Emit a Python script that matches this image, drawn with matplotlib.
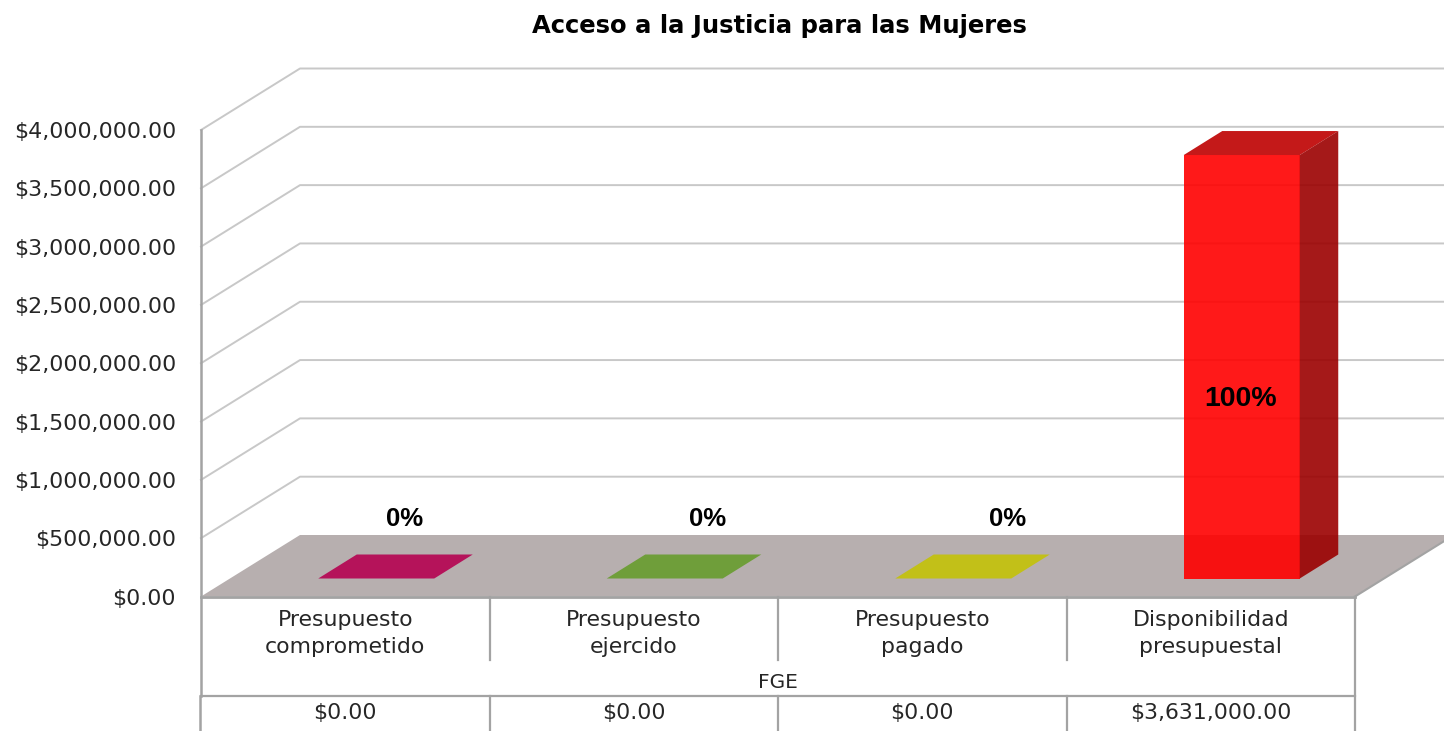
import matplotlib
matplotlib.use("Agg")
import matplotlib.pyplot as plt

categories = ["Presupuesto\ncomprometido", "Presupuesto\nejercido", "Presupuesto\npagado", "Disponibilidad\npresupuestal"]
values = [0, 0, 0, 3631000]
percent_labels = ["0%", "0%", "0%", "100%"]
value_labels = ["$0.00", "$0.00", "$0.00", "$3,631,000.00"]
group_label = "FGE"
y_ticks = [0, 500000, 1000000, 1500000, 2000000, 2500000, 3000000, 3500000, 4000000]

W, H = 1444, 731
LEFT, RIGHT, TOP, BOTTOM = 201, 1355, 130, 596.5
FONT = "DejaVu Sans"
GRID = "#C8C8C8"
AXIS = "#A3A3A3"

fig = plt.figure(figsize=(W / 100, H / 100), dpi=100)
ax = fig.add_axes([LEFT / W, 1 - BOTTOM / H, (RIGHT - LEFT) / W, (BOTTOM - TOP) / H])
ax.set_xlim(0, 4)
ax.set_ylim(0, 4000000)
ax.patch.set_visible(False)

px_x = 4 / (RIGHT - LEFT)
px_y = 4000000 / (BOTTOM - TOP)
depth_x = 99 * px_x
depth_y = 61.5 * px_y


def below(px):
    # y in data units for a pixel row under the axes
    return -(px - BOTTOM) * px_y


# grid on the side and back walls
for v in y_ticks[1:]:
    ax.plot([0, depth_x, 4 + depth_x], [v, v + depth_y, v + depth_y], color=GRID, lw=1.4, clip_on=False, zorder=1)

# floor
ax.fill([0, depth_x, 4 + depth_x, 4], [0, depth_y, depth_y, 0], color="#B7AFAF", lw=0, clip_on=False, zorder=2)
ax.plot([4, 4 + depth_x], [0, depth_y], color=AXIS, lw=1.5, clip_on=False, zorder=3)

# bars
bar_w = 116 * px_x
bar_dx = 38.5 * px_x
bar_dy = 24 * px_y
start_x = 31 * px_x
start_y = 18 * px_y
flat_colors = ["#B5135A", "#6F9E3A", "#C2C018", "#FF0000"]
for i, v in enumerate(values):
    x0 = i + 0.5 + start_x - bar_w / 2
    x1 = x0 + bar_w
    y0 = start_y
    y1 = y0 + v
    ax.fill([x0, x0 + bar_dx, x1 + bar_dx, x1], [y1, y1 + bar_dy, y1 + bar_dy, y1],
            color=flat_colors[i] if v == 0 else "#BE0000", alpha=1 if v == 0 else 0.9, lw=0, clip_on=False, zorder=4)
    if v > 0:
        ax.fill([x0, x1, x1, x0], [y0, y0, y1, y1], color=flat_colors[i], alpha=0.9, lw=0, clip_on=False, zorder=4)
        ax.fill([x1, x1 + bar_dx, x1 + bar_dx, x1], [y0, y0 + bar_dy, y1 + bar_dy, y1],
                color="#9B0000", alpha=0.9, lw=0, clip_on=False, zorder=4)

# percent labels
label_x = [0.705, 1.757, 2.797, 3.605]
label_y = [77 * px_y, 77 * px_y, 78 * px_y, 197 * px_y]
label_size = [18.5, 18.5, 18.5, 20.5]
for x, y, s, size in zip(label_x, label_y, percent_labels, label_size):
    ax.text(x, y, s, ha="center", va="center", fontsize=size, fontweight="bold", family="Liberation Sans", color="black", zorder=6)

# axis lines and table under the chart
for s in ["top", "right", "bottom", "left"]:
    ax.spines[s].set_visible(False)
ax.plot([0, 0], [4000000, below(696)], color=AXIS, lw=1.8, clip_on=False, zorder=5)
ax.plot([0, 4], [0, 0], color=AXIS, lw=2, clip_on=False, zorder=5)
ax.plot([0, 4], [below(696), below(696)], color=AXIS, lw=1.6, clip_on=False, zorder=5)
ax.plot([-1 * px_x, -1 * px_x], [below(696), below(731)], color=AXIS, lw=1.8, clip_on=False, zorder=5)
ax.plot([4, 4], [0, below(731)], color=AXIS, lw=1.6, clip_on=False, zorder=5)
for i in range(1, 4):
    ax.plot([i, i], [0, below(660)], color=AXIS, lw=1.6, clip_on=False, zorder=5)
    ax.plot([i, i], [below(696), below(731)], color=AXIS, lw=1.6, clip_on=False, zorder=5)

ax.set_yticks(y_ticks)
ax.set_yticklabels(["${:,.2f}".format(v) for v in y_ticks], fontsize=15.9, family=FONT, color="#262626")
ax.set_xticks([0.5, 1.5, 2.5, 3.5])
ax.set_xticklabels(categories, fontsize=15.8, family=FONT, color="#262626", linespacing=1.42)
ax.tick_params(axis="y", length=0, pad=18)
ax.tick_params(axis="x", length=0, pad=10)

ax.text(2, below(682), group_label, ha="center", va="center", fontsize=14.5, family=FONT, color="#262626")
for i, s in enumerate(value_labels):
    ax.text(i + 0.5, below(713), s, ha="center", va="center", fontsize=15.8, family=FONT, color="#262626")

ax.set_title("Acceso a la Justicia para las Mujeres", fontsize=17.5, fontweight="bold", family=FONT, color="black", pad=70, x=0.501)

fig.savefig("out.png", dpi=100, facecolor="white")
